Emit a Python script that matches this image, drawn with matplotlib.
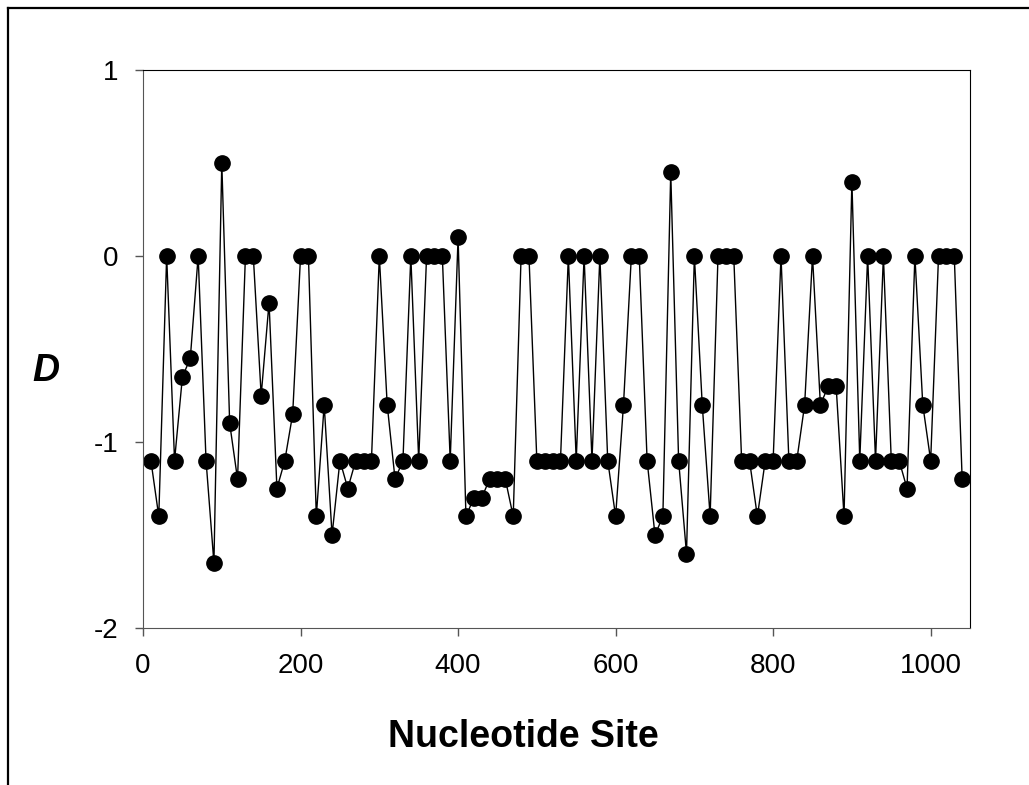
# Tajima's D along the nucleotide sites
import matplotlib
matplotlib.use('Agg')
import matplotlib.pyplot as plt
from matplotlib.lines import Line2D

plt.rcParams['font.family'] = ['Liberation Sans', 'DejaVu Sans']

sites = list(range(10, 1050, 10))
d_values = [
    -1.1, -1.4, 0, -1.1, -0.65, -0.55, 0, -1.1, -1.65, 0.5,
    -0.9, -1.2, 0, 0, -0.75, -0.25, -1.25, -1.1, -0.85, 0,
    0, -1.4, -0.8, -1.5, -1.1, -1.25, -1.1, -1.1, -1.1, 0,
    -0.8, -1.2, -1.1, 0, -1.1, 0, 0, 0, -1.1, 0.1,
    -1.4, -1.3, -1.3, -1.2, -1.2, -1.2, -1.4, 0, 0, -1.1,
    -1.1, -1.1, -1.1, 0, -1.1, 0, -1.1, 0, -1.1, -1.4,
    -0.8, 0, 0, -1.1, -1.5, -1.4, 0.45, -1.1, -1.6, 0,
    -0.8, -1.4, 0, 0, 0, -1.1, -1.1, -1.4, -1.1, -1.1,
    0, -1.1, -1.1, -0.8, 0, -0.8, -0.7, -0.7, -1.4, 0.4,
    -1.1, 0, -1.1, 0, -1.1, -1.1, -1.25, 0, -0.8, -1.1,
    0, 0, 0, -1.2,
]
x_ticks = [0, 200, 400, 600, 800, 1000]
y_ticks = [-2, -1, 0, 1]

fig = plt.figure(figsize=(10.29, 7.85), dpi=100)
fig.set_facecolor('white')
ax = fig.add_axes([0.139, 0.2, 0.8037, 0.7108])

ax.plot(sites, d_values, color='black', linewidth=1.0, marker='o',
        markersize=11, markerfacecolor='black', markeredgecolor='black')

ax.set_xlim(0, 1050)
ax.set_ylim(-2, 1)
ax.set_xticks(x_ticks)
ax.set_yticks(y_ticks)
ax.set_yticklabels([str(v) for v in y_ticks])
ax.tick_params(direction='out', length=5.8, width=1, color='#555555',
               labelsize=20, pad=12)

for side in ['left', 'bottom']:
    ax.spines[side].set_color('#555555')
for side in ['top', 'right']:
    ax.spines[side].set_color('black')

ax.set_ylabel('D', fontsize=27, fontweight='bold', style='italic', rotation=0)
ax.yaxis.set_label_coords(-0.118, 0.428)
fig.text(523 / 1029, 1 - 737 / 785, 'Nucleotide Site', fontsize=27,
         fontweight='bold', ha='center', va='center')

# outer frame (left and top edges only)
fig.add_artist(Line2D([7.5 / 1029, 7.5 / 1029], [0, 1 - 8 / 785],
                      color='black', linewidth=1.6, transform=fig.transFigure))
fig.add_artist(Line2D([7.5 / 1029, 1], [1 - 8 / 785, 1 - 8 / 785],
                      color='black', linewidth=1.6, transform=fig.transFigure))

fig.savefig('out.png', dpi=100, facecolor='white')
